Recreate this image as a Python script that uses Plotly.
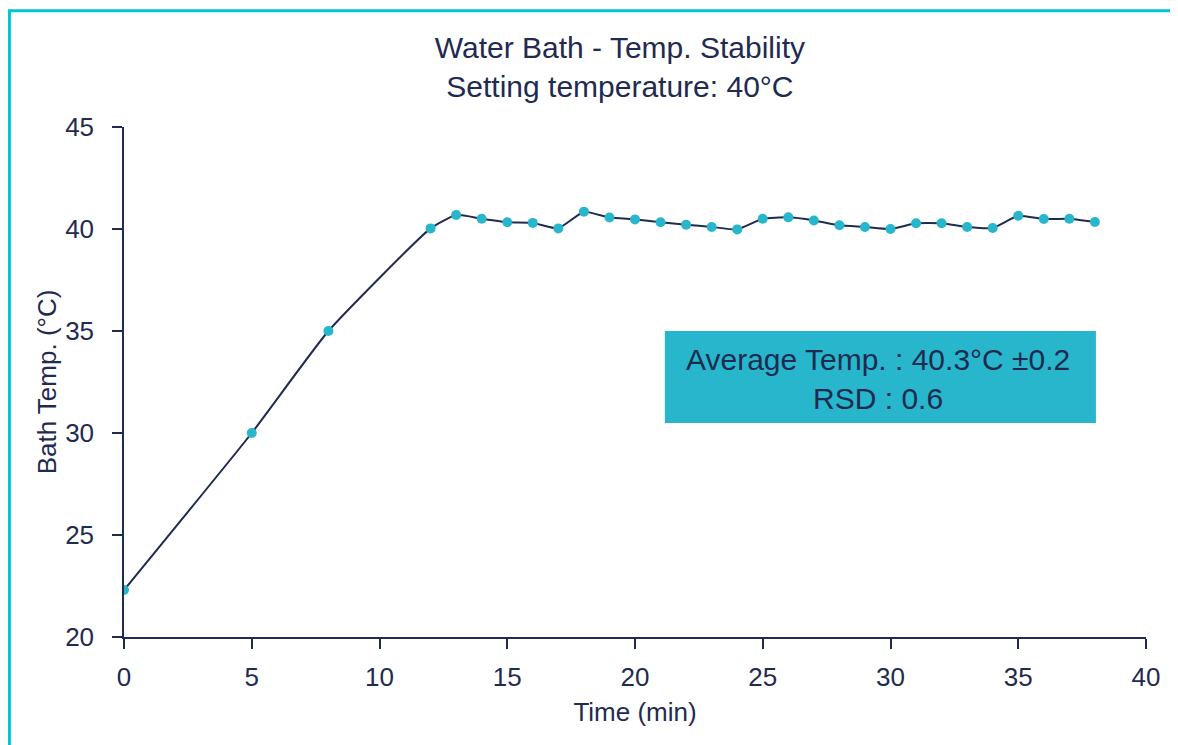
import plotly.graph_objects as go

time_min = [0, 5, 8, 12, 13, 14, 15, 16, 17, 18, 19, 20, 21, 22, 23, 24, 25,
            26, 27, 28, 29, 30, 31, 32, 33, 34, 35, 36, 37, 38]
bath_temp = [22.3, 30.0, 35.0, 40.03, 40.69, 40.5, 40.33, 40.3, 40.03, 40.85, 40.56,
             40.47, 40.33, 40.21, 40.1, 39.98, 40.5, 40.57, 40.42, 40.18, 40.1,
             40.0, 40.28, 40.28, 40.1, 40.05, 40.65, 40.49, 40.5, 40.34]

x_ticks = [0, 5, 10, 15, 20, 25, 30, 35, 40]
y_ticks = [20, 25, 30, 35, 40, 45]

navy = "#1f2b50"
teal = "#27b6cc"
border = "#00c5d6"
font_family = "Liberation Sans, Arial, sans-serif"

fig = go.Figure()
fig.add_trace(go.Scatter(
    x=time_min, y=bath_temp, mode="lines+markers",
    line=dict(color=navy, width=2, shape="spline", smoothing=0.45),
    marker=dict(color=teal, size=10),
    showlegend=False, hoverinfo="x+y"))

fig.add_shape(type="rect", xref="x", yref="y", x0=21.17, x1=38.04, y0=30.49, y1=35.0,
              fillcolor=teal, line=dict(width=0), layer="above")
fig.add_annotation(x=29.5, y=32.65, xref="x", yref="y",
                   text="Average Temp. : 40.3°C ±0.2<br>RSD : 0.6",
                   showarrow=False, font=dict(size=30, color=navy, family=font_family),
                   align="center")

# outer frame
fig.add_shape(type="rect", xref="paper", yref="paper", x0=-0.1121, x1=1.2, y0=-0.4, y1=1.228,
              line=dict(color=border, width=3), fillcolor="rgba(0,0,0,0)", layer="below")

fig.update_layout(
    width=1170, height=737,
    margin=dict(l=116, r=32, t=119, b=108),
    paper_bgcolor="white", plot_bgcolor="white",
    font=dict(family=font_family, color=navy),
    title=dict(text="Water Bath - Temp. Stability<br>Setting temperature: 40°C",
               x=0.523, xanchor="center", y=0.932, yanchor="top",
               font=dict(size=30, color=navy, family=font_family)),
    xaxis=dict(range=[0, 40], tickvals=x_ticks, showgrid=False, zeroline=False,
               showline=True, linecolor=navy, linewidth=1.5,
               ticks="outside", ticklen=10, tickcolor=navy, tickwidth=1.5,
               ticklabelstandoff=6,
               tickfont=dict(size=26, color=navy),
               title=dict(text="Time (min)", font=dict(size=26, color=navy), standoff=12)),
    yaxis=dict(range=[20, 45], tickvals=y_ticks, showgrid=False, zeroline=False,
               showline=True, linecolor=navy, linewidth=1.5,
               ticks="outside", ticklen=10, tickcolor=navy, tickwidth=1.5,
               ticklabelstandoff=13,
               tickfont=dict(size=26, color=navy),
               title=dict(text="Bath Temp. (°C)", font=dict(size=26, color=navy), standoff=1)),
)

fig.write_html("out.html")
